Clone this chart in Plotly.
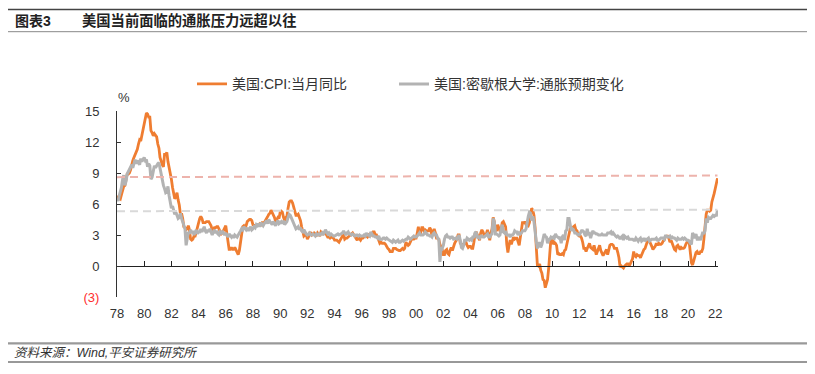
import pandas as pd
import plotly.graph_objects as go

# ---------------- data (monthly, Jan 1978 - Mar 2022) ----------------
cpi_yoy = [
    6.8, 6.4, 6.6, 6.5, 6.9, 7.4, 7.7, 7.8, 8.3, 8.9, 8.9, 9.0,        # 1978
    9.3, 9.9, 10.2, 10.5, 10.8, 10.9, 11.3, 11.8, 12.2, 12.1, 12.6, 13.3,  # 1979
    13.9, 14.2, 14.8, 14.7, 14.4, 14.4, 13.1, 12.9, 12.6, 12.8, 12.6, 12.5,  # 1980
    11.8, 11.4, 10.5, 10.0, 9.8, 9.6, 10.8, 10.8, 11.0, 10.1, 9.6, 8.9,  # 1981
    8.4, 7.6, 6.8, 6.5, 6.7, 7.1, 6.4, 5.9, 5.0, 5.1, 4.6, 3.8,          # 1982
    3.7, 3.5, 3.6, 3.9, 3.5, 2.6, 2.5, 2.6, 2.9, 2.9, 3.3, 3.8,          # 1983
    4.2, 4.6, 4.8, 4.6, 4.2, 4.2, 4.2, 4.3, 4.3, 4.3, 4.1, 3.9,          # 1984
    3.5, 3.5, 3.7, 3.7, 3.8, 3.8, 3.6, 3.3, 3.1, 3.2, 3.5, 3.8,          # 1985
    3.9, 3.1, 2.2, 1.6, 1.6, 1.8, 1.6, 1.6, 1.8, 1.5, 1.3, 1.1,          # 1986
    1.5, 2.1, 3.0, 3.8, 3.9, 3.7, 3.9, 4.3, 4.4, 4.5, 4.5, 4.4,          # 1987
    4.0, 3.9, 3.9, 3.9, 3.9, 4.0, 4.1, 4.0, 4.2, 4.2, 4.2, 4.4,          # 1988
    4.7, 4.8, 5.0, 5.1, 5.4, 5.2, 5.0, 4.7, 4.3, 4.5, 4.7, 4.6,          # 1989
    5.2, 5.3, 5.2, 4.7, 4.4, 4.7, 4.8, 5.6, 6.2, 6.3, 6.3, 6.1,          # 1990
    5.7, 5.3, 4.9, 4.9, 5.0, 4.7, 4.4, 3.8, 3.4, 2.9, 3.0, 3.1,          # 1991
    2.6, 2.8, 3.2, 3.2, 3.0, 3.1, 3.2, 3.1, 3.0, 3.2, 3.0, 2.9,          # 1992
    3.3, 3.2, 3.1, 3.2, 3.2, 3.0, 2.8, 2.8, 2.7, 2.8, 2.7, 2.7,          # 1993
    2.5, 2.5, 2.5, 2.4, 2.3, 2.5, 2.8, 2.9, 3.0, 2.6, 2.7, 2.7,          # 1994
    2.8, 2.9, 2.9, 3.1, 3.2, 3.0, 2.8, 2.6, 2.5, 2.8, 2.6, 2.5,          # 1995
    2.7, 2.7, 2.8, 2.9, 2.9, 2.8, 3.0, 2.9, 3.0, 3.0, 3.3, 3.3,          # 1996
    3.0, 3.0, 2.8, 2.5, 2.2, 2.3, 2.2, 2.2, 2.2, 2.1, 1.8, 1.7,          # 1997
    1.6, 1.4, 1.4, 1.4, 1.7, 1.7, 1.7, 1.6, 1.5, 1.5, 1.5, 1.6,          # 1998
    1.7, 1.6, 1.7, 2.3, 2.1, 2.0, 2.1, 2.3, 2.6, 2.6, 2.6, 2.7,          # 1999
    2.7, 3.2, 3.8, 3.1, 3.2, 3.7, 3.7, 3.4, 3.5, 3.4, 3.4, 3.4,          # 2000
    3.7, 3.5, 2.9, 3.3, 3.6, 3.2, 2.7, 2.7, 2.6, 2.1, 1.9, 1.6,          # 2001
    1.1, 1.1, 1.5, 1.6, 1.2, 1.1, 1.5, 1.8, 1.5, 2.0, 2.2, 2.4,          # 2002
    2.6, 3.0, 3.0, 2.2, 2.1, 2.1, 2.1, 2.2, 2.3, 2.0, 1.8, 1.9,          # 2003
    1.9, 1.7, 1.7, 2.3, 3.1, 3.3, 3.0, 2.7, 2.5, 3.2, 3.5, 3.3,          # 2004
    3.0, 3.0, 3.1, 3.5, 2.8, 2.5, 3.2, 3.6, 4.7, 4.3, 3.5, 3.4,          # 2005
    4.0, 3.6, 3.4, 3.5, 4.2, 4.3, 4.1, 3.8, 2.1, 1.3, 2.0, 2.5,          # 2006
    2.1, 2.4, 2.8, 2.6, 2.7, 2.7, 2.4, 2.0, 2.8, 3.5, 4.3, 4.1,          # 2007
    4.3, 4.0, 4.0, 3.9, 4.2, 5.0, 5.6, 5.4, 4.9, 3.7, 1.1, 0.1,          # 2008
    0.0, 0.2, -0.4, -0.7, -1.3, -1.4, -2.1, -1.5, -1.3, -0.2, 1.8, 2.7,  # 2009
    2.6, 2.1, 2.3, 2.2, 2.0, 1.1, 1.2, 1.1, 1.1, 1.2, 1.1, 1.5,          # 2010
    1.6, 2.1, 2.7, 3.2, 3.6, 3.6, 3.6, 3.8, 3.9, 3.5, 3.4, 3.0,          # 2011
    2.9, 2.9, 2.7, 2.3, 1.7, 1.7, 1.4, 1.7, 2.0, 2.2, 1.8, 1.7,          # 2012
    1.6, 2.0, 1.5, 1.1, 1.4, 1.8, 2.0, 1.5, 1.2, 1.0, 1.2, 1.5,          # 2013
    1.6, 1.1, 1.5, 2.0, 2.1, 2.1, 2.0, 1.7, 1.7, 1.7, 1.3, 0.8,          # 2014
    -0.1, 0.0, -0.1, -0.2, 0.0, 0.1, 0.2, 0.2, 0.0, 0.2, 0.5, 0.7,       # 2015
    1.4, 1.0, 0.9, 1.1, 1.0, 1.0, 0.8, 1.1, 1.5, 1.6, 1.7, 2.1,          # 2016
    2.5, 2.7, 2.4, 2.2, 1.9, 1.6, 1.7, 1.9, 2.2, 2.0, 2.2, 2.1,          # 2017
    2.1, 2.2, 2.4, 2.5, 2.8, 2.9, 2.9, 2.7, 2.3, 2.5, 2.2, 1.9,          # 2018
    1.6, 1.5, 1.9, 2.0, 1.8, 1.6, 1.8, 1.7, 1.7, 1.8, 2.1, 2.3,          # 2019
    2.5, 2.3, 1.5, 0.3, 0.1, 0.6, 1.0, 1.3, 1.4, 1.2, 1.2, 1.4,          # 2020
    1.4, 1.7, 2.6, 4.2, 5.0, 5.4, 5.4, 5.3, 5.4, 6.2, 6.8, 7.0,          # 2021
    7.5, 7.9, 8.5,                                                       # 2022
]

mich_exp = [
    6.5, 6.3, 6.8, 7.2, 7.6, 8.4, 8.8, 7.8, 8.2, 8.9, 9.1, 9.3,          # 1978
    9.6, 9.8, 9.5, 10.1, 10.3, 9.9, 10.2, 10.0, 9.8, 10.4, 10.1, 10.3,   # 1979
    10.5, 10.2, 10.3, 9.6, 9.9, 9.7, 8.4, 8.6, 9.3, 9.7, 9.5, 9.8,       # 1980
    9.9, 10.0, 9.4, 8.8, 8.3, 7.8, 7.5, 7.1, 7.2, 7.7, 6.8, 6.3,         # 1981
    5.6, 5.8, 5.3, 5.0, 5.2, 4.9, 4.6, 4.7, 5.1, 4.6, 4.2, 3.9,          # 1982
    3.6, 2.0, 2.6, 3.3, 3.1, 3.5, 3.2, 3.4, 3.0, 3.3, 3.5, 3.1,          # 1983
    3.4, 3.2, 3.6, 3.3, 3.5, 3.8, 3.4, 3.2, 3.5, 3.3, 3.6, 3.2,          # 1984
    3.0, 3.3, 3.5, 3.2, 3.4, 3.1, 3.0, 3.3, 3.2, 3.4, 3.1, 3.0,          # 1985
    3.2, 3.0, 2.8, 3.1, 2.9, 2.8, 3.0, 2.7, 3.0, 2.9, 2.8, 3.0,          # 1986
    3.3, 3.4, 3.6, 3.5, 3.8, 3.6, 3.5, 3.7, 3.4, 3.6, 3.8, 3.5,          # 1987
    3.6, 3.8, 3.7, 4.0, 3.9, 4.1, 3.8, 4.2, 4.0, 3.9, 4.1, 4.3,          # 1988
    4.4, 4.1, 4.5, 4.3, 4.2, 4.0, 4.3, 4.1, 3.9, 4.2, 4.4, 4.1,          # 1989
    4.2, 4.3, 4.1, 4.4, 4.0, 4.2, 4.3, 4.7, 5.0, 4.9, 4.6, 4.4,          # 1990
    4.1, 3.8, 3.6, 3.7, 3.8, 3.5, 3.7, 3.4, 3.3, 3.5, 3.2, 3.1,          # 1991
    3.0, 3.1, 3.2, 3.0, 3.0, 3.1, 3.0, 2.9, 3.1, 3.0, 3.1, 3.0,          # 1992
    3.1, 3.2, 3.0, 3.2, 3.5, 3.3, 3.1, 3.2, 3.0, 3.1, 3.0, 2.9,          # 1993
    2.9, 3.0, 3.0, 3.1, 3.0, 3.1, 3.1, 3.2, 3.4, 3.1, 3.0, 3.2,          # 1994
    3.3, 3.1, 3.1, 3.0, 3.1, 3.0, 2.9, 3.0, 3.0, 2.9, 3.0, 2.9,          # 1995
    2.9, 2.9, 3.0, 2.9, 3.2, 3.0, 3.0, 2.9, 3.3, 3.0, 2.9, 2.9,          # 1996
    2.8, 2.8, 2.7, 2.9, 2.6, 2.6, 2.6, 2.7, 2.7, 2.6, 2.7, 2.6,          # 1997
    2.5, 2.4, 2.4, 2.3, 2.5, 2.4, 2.3, 2.4, 2.5, 2.3, 2.3, 2.4,          # 1998
    2.5, 2.4, 2.5, 2.6, 2.6, 2.8, 2.7, 2.6, 2.7, 2.8, 2.9, 2.8,          # 1999
    2.8, 2.9, 3.1, 3.2, 3.0, 3.0, 3.0, 3.1, 3.3, 3.2, 3.0, 3.0,          # 2000
    2.9, 2.9, 2.8, 3.1, 3.2, 3.0, 3.0, 2.7, 2.6, 0.4, 1.8, 1.7,          # 2001
    2.0, 2.6, 2.9, 3.0, 2.8, 2.8, 2.7, 2.8, 2.8, 2.6, 2.7, 2.7,          # 2002
    2.6, 2.9, 3.0, 2.5, 1.8, 1.7, 2.0, 2.6, 2.4, 2.7, 2.6, 2.5,          # 2003
    2.6, 2.5, 2.8, 2.8, 3.2, 3.3, 2.7, 2.8, 2.7, 2.9, 2.9, 2.8,          # 2004
    2.8, 2.9, 2.9, 3.1, 2.8, 2.8, 3.0, 3.1, 4.6, 4.3, 3.1, 3.1,          # 2005
    3.0, 2.9, 3.0, 3.4, 4.0, 3.3, 3.2, 3.4, 3.0, 3.0, 3.0, 2.8,          # 2006
    3.0, 3.0, 3.1, 3.4, 3.3, 3.3, 3.0, 3.2, 3.1, 3.2, 3.4, 3.4,          # 2007
    3.4, 3.6, 4.3, 4.8, 5.2, 5.1, 4.4, 4.8, 4.3, 3.1, 2.4, 1.7,          # 2008
    2.2, 2.2, 1.8, 2.1, 2.8, 3.1, 2.9, 2.8, 2.2, 2.6, 2.6, 2.8,          # 2009
    2.7, 2.8, 2.7, 3.1, 2.9, 2.8, 2.7, 2.8, 2.2, 2.8, 3.0, 2.5,          # 2010
    3.4, 3.5, 4.6, 4.6, 4.1, 3.4, 3.6, 3.5, 3.2, 3.2, 3.1, 3.0,          # 2011
    3.0, 3.3, 3.4, 3.4, 3.3, 3.0, 2.9, 3.6, 3.0, 3.1, 2.7, 3.1,          # 2012
    3.4, 3.2, 3.2, 3.1, 3.1, 3.0, 3.0, 3.0, 3.1, 3.0, 3.0, 3.0,          # 2013
    3.0, 3.2, 3.2, 3.2, 3.3, 3.0, 3.2, 3.0, 2.9, 2.8, 2.9, 2.8,          # 2014
    2.6, 2.8, 2.9, 2.5, 2.9, 2.8, 2.7, 2.8, 2.6, 2.6, 2.6, 2.6,          # 2015
    2.5, 2.5, 2.7, 2.5, 2.4, 2.6, 2.7, 2.4, 2.5, 2.7, 2.4, 2.6,          # 2016
    2.6, 2.7, 2.4, 2.5, 2.6, 2.6, 2.6, 2.6, 2.7, 2.5, 2.5, 2.6,          # 2017
    2.7, 2.7, 2.7, 2.6, 2.9, 2.9, 2.8, 2.8, 2.9, 2.7, 2.8, 2.7,          # 2018
    2.7, 2.6, 2.5, 2.7, 2.6, 2.6, 2.6, 2.7, 2.6, 2.7, 2.6, 2.5,          # 2019
    2.5, 2.4, 2.2, 2.1, 3.2, 3.0, 2.7, 3.1, 2.6, 2.6, 2.8, 2.5,          # 2020
    3.0, 3.3, 3.1, 3.4, 4.6, 4.2, 4.7, 4.6, 4.6, 4.8, 4.9, 4.8,          # 2021
    4.9, 4.9, 5.4,                                                       # 2022
]

cpi_ref = [8.6, 8.75]      # red dashed reference line (start, end)
mich_ref = [5.3, 5.45]     # grey dashed reference line (start, end)

tick_years = list(range(1978, 2023, 2))
tick_labels = ["%02d" % (y % 100) for y in tick_years]
y_ticks = [-3, 0, 3, 6, 9, 12, 15]
y_labels = ['<span style="color:#FF2E2E">(3)</span>', "0", "3", "6", "9", "12", "15"]

names = ["美国:CPI:当月同比", "美国:密歇根大学:通胀预期变化"]

# ---------------- figure ----------------
dates = pd.date_range("1978-01-01", periods=len(cpi_yoy), freq="MS")
ref_x = [dates[0], dates[-1]]

FONT = "Liberation Sans, Arial, 'Noto Sans CJK SC', sans-serif"
OFF = 8                      # default body margin of the html page
W, H = 815 - OFF, 374 - OFF  # figure size so that it fits the window
# plot area in window pixels
PX0, PX1, PY0, PY1 = 117, 718, 111, 297
L, R, T, B = PX0 - OFF, 815 - PX1, PY0 - OFF, 374 - PY1
PW, PH = PX1 - PX0, PY1 - PY0


def px(xp):  # window pixel -> paper x
    return (xp - PX0) / PW


def py(yp):  # window pixel -> paper y
    return (PY1 - yp) / PH


fig = go.Figure()
fig.add_trace(go.Scatter(x=ref_x, y=cpi_ref, mode="lines", xaxis="x2", yaxis="y",
                         line=dict(color="#EDB3AC", width=2, dash="8px,5px"),
                         showlegend=False, hoverinfo="skip"))
fig.add_trace(go.Scatter(x=ref_x, y=mich_ref, mode="lines", xaxis="x2", yaxis="y",
                         line=dict(color="#D9D9D9", width=2, dash="8px,5px"),
                         showlegend=False, hoverinfo="skip"))
fig.add_trace(go.Scatter(x=dates, y=cpi_yoy, mode="lines", name=names[0], legend="legend",
                         line=dict(color="#EF7D31", width=2.8)))
fig.add_trace(go.Scatter(x=dates, y=mich_exp, mode="lines", name=names[1], legend="legend2",
                         line=dict(color="#B3B3B3", width=3)))

xr = ["1978-01-01", "2022-03-15"]
leg_common = dict(orientation="h", xanchor="left", yanchor="middle",
                  font=dict(size=14, color="#333333"), bgcolor="rgba(0,0,0,0)", itemwidth=30)
fig.update_layout(
    width=W, height=H,
    margin=dict(l=L, r=R, t=T, b=B, pad=0),
    paper_bgcolor="white", plot_bgcolor="white",
    font=dict(family=FONT, size=13, color="#333333"),
    xaxis=dict(range=xr, tickvals=[pd.Timestamp(f"{y}-01-01") for y in tick_years],
               ticktext=tick_labels, showline=False, showgrid=False, zeroline=False,
               ticks="", ticklabelstandoff=7, tickfont=dict(size=13, color="#333333")),
    xaxis2=dict(range=xr, overlaying="x", anchor="free", position=3 / 18,
                tickvals=[pd.Timestamp(f"{y}-01-01") for y in tick_years],
                showticklabels=False, showline=True, linecolor="#222222", linewidth=1,
                ticks="inside", ticklen=5, tickcolor="#222222", tickwidth=1,
                showgrid=False, zeroline=False),
    yaxis=dict(range=[-3, 15], tickvals=y_ticks, ticktext=y_labels, showline=True,
               linecolor="#333333", linewidth=1, ticks="inside", ticklen=4,
               tickcolor="#333333", showgrid=False, zeroline=False,
               ticklabelstandoff=14, tickfont=dict(size=13, color="#333333")),
    legend=dict(x=px(192), y=py(84.3), **leg_common),
    legend2=dict(x=px(394), y=py(84.3), **leg_common),
    showlegend=True,
)

# header / footer rules
for yp, col, wd in [(9.5, "#444444", 1.6), (31.7, "#888888", 1), (343.3, "#999999", 2.2), (362, "#333333", 1)]:
    fig.add_shape(type="line", xref="paper", yref="paper", x0=px(8), x1=px(808),
                  y0=py(yp), y1=py(yp), line=dict(color=col, width=wd))

fig.add_annotation(text="<b>图表3</b>", xref="paper", yref="paper", x=px(13), y=py(20.5),
                   xanchor="left", yanchor="middle", showarrow=False,
                   font=dict(size=14, color="#222222"))
fig.add_annotation(text="<b>美国当前面临的通胀压力远超以往</b>", xref="paper", yref="paper",
                   x=px(80), y=py(20.5), xanchor="left", yanchor="middle", showarrow=False,
                   font=dict(size=14.3, color="#222222"))
fig.add_annotation(text="%", xref="paper", yref="paper", x=px(124), y=py(97),
                   xanchor="center", yanchor="middle", showarrow=False,
                   font=dict(size=13, color="#333333"))
fig.add_annotation(text="<i>资料来源：Wind,平安证券研究所</i>", xref="paper", yref="paper",
                   x=px(12.5), y=py(353), xanchor="left", yanchor="middle", showarrow=False,
                   font=dict(size=12.5, color="#333333"))

fig.write_html("out.html")
